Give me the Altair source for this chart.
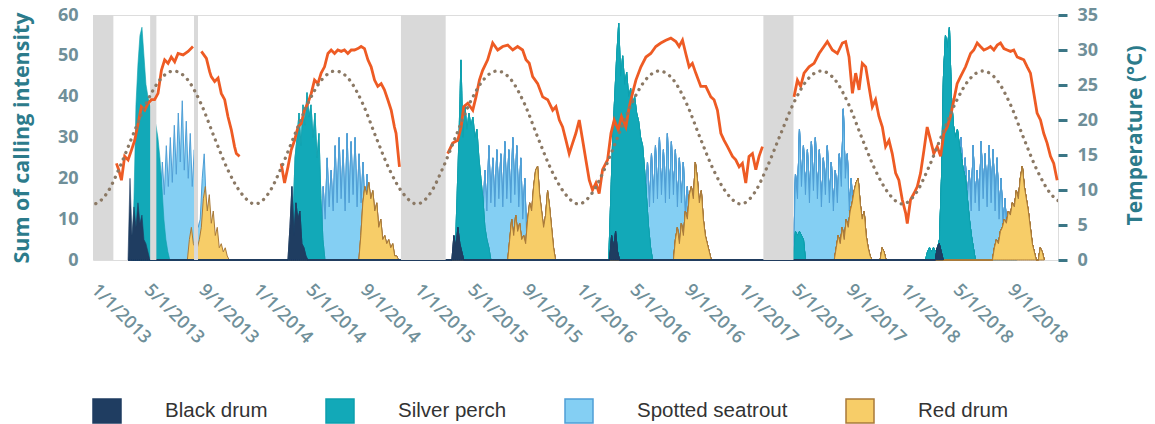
import altair as alt
import pandas as pd

# ---------------- data ----------------
SPECIES = ["Black drum", "Silver perch", "Spotted seatrout", "Red drum"]
FILL_COLORS = ["#1f3d61", "#12a9b8", "#84cff3", "#f7cd68"]
EDGE_COLORS = ["#1f3d61", "#0e9fad", "#4f9fd6", "#a97a3a"]

STEP_DAYS = 4.5  # spacing of the calling-intensity samples

BLACK_DRUM = [
    ("2013-03-20", [0, 20, 6, 13, 8, 14, 9, 11, 5, 4, 2, 0]),
    ("2014-03-16", [0, 8, 18, 6, 14, 10, 12, 4, 3, 1, 0]),
    ("2015-03-21", [0, 6, 3, 8, 4, 2, 0]),
    ("2016-03-11", [0, 6, 3, 7, 2, 0]),
    ("2018-03-16", [0, 3, 4, 2, 0]),
]
SILVER_PERCH = [
    ("2013-03-29", [0, 15, 38, 48, 55, 57, 50, 43, 40, 38, 37, 35, 33, 30, 25, 18, 10, 5, 2, 0]),
    ("2014-03-23", [0, 10, 25, 30, 36, 28, 38, 33, 41, 35, 38, 30, 36, 25, 31, 15, 5, 0]),
    ("2015-03-28", [0, 15, 30, 49, 30, 38, 32, 36, 33, 35, 30, 32, 25, 20, 15, 8, 5, 3, 0]),
    ("2016-03-09", [0, 15, 30, 40, 50, 58, 45, 50, 43, 46, 40, 42, 38, 40, 36, 34, 30, 28, 22, 15, 8, 3, 0]),
    ("2017-04-30", [0, 7, 6, 7, 6, 5, 0]),
    ("2018-02-22", [0, 2, 3, 2, 3, 2, 3, 5, 20, 45, 55, 52, 57, 40, 33, 30, 32, 28, 25, 22, 20, 15, 10, 6, 3, 0]),
]
SPOTTED_SEATROUT = [
    ("2013-05-23", [0, 20, 14, 24, 16, 28, 18, 30, 19, 33, 21, 36, 24, 39, 22, 34, 20, 31, 18, 27, 12, 8, 10, 20, 26, 14, 12, 5, 2, 0]),
    ("2014-05-30", [0, 18, 10, 25, 13, 22, 12, 28, 14, 30, 15, 27, 12, 31, 14, 29, 16, 30, 13, 26, 14, 24, 11, 21, 8, 10, 3, 0]),
    ("2015-05-21", [0, 15, 10, 22, 12, 28, 14, 25, 13, 27, 15, 26, 13, 29, 15, 27, 14, 30, 16, 28, 13, 25, 10, 20, 5, 3, 0]),
    ("2016-05-22", [0, 18, 12, 24, 13, 26, 14, 28, 15, 30, 16, 27, 14, 31, 15, 29, 16, 27, 13, 25, 14, 24, 10, 18, 8, 6, 2, 0]),
    ("2017-04-30", [0, 21, 15, 32, 18, 28, 16, 27, 14, 29, 17, 30, 15, 27, 13, 25, 16, 28, 14, 24, 12, 22, 14, 26, 18, 37, 20, 26, 12, 20, 8, 12, 5, 6, 3, 2, 2, 1, 1, 0]),
    ("2018-04-30", [0, 12, 18, 30, 16, 25, 14, 22, 12, 28, 14, 22, 12, 29, 15, 26, 13, 28, 14, 27, 12, 25, 10, 20, 8, 15, 5, 10, 3, 2, 2, 0]),
]
RED_DRUM = [
    ("2013-08-01", [0, 5, 8, 4, 3, 3, 5, 8, 15, 18, 12, 16, 9, 12, 6, 8, 3, 4, 2, 3, 1, 0]),
    ("2014-08-23", [0, 6, 14, 18, 16, 19, 15, 17, 12, 14, 8, 10, 5, 6, 4, 5, 3, 4, 1, 1, 0]),
    ("2015-07-25", [0, 5, 10, 6, 11, 7, 9, 5, 6, 4, 10, 14, 12, 18, 22, 23, 16, 12, 8, 11, 17, 13, 8, 3, 0]),
    ("2016-08-02", [0, 5, 8, 4, 9, 6, 12, 10, 16, 18, 15, 24, 20, 14, 17, 10, 6, 4, 2, 0]),
    ("2017-07-31", [0, 3, 6, 4, 8, 5, 10, 8, 12, 14, 17, 19, 20, 14, 10, 12, 6, 3, 1, 0, 0, 0, 0, 0, 3, 2, 0]),
    ("2018-07-23", [0, 3, 5, 4, 7, 8, 10, 9, 12, 11, 14, 13, 17, 15, 20, 23, 18, 15, 12, 8, 4, 2, 0, 0, 3, 2, 0]),
]

# water temperature (decimal year, deg C), one list per continuous record
TEMP_2013A = [(2013.142, 13.8), (2013.156, 12.9), (2013.173, 11.4), (2013.193, 14.8), (2013.214, 14.3),
              (2013.235, 15.7), (2013.255, 17.1), (2013.276, 19.5), (2013.296, 21.9), (2013.317, 21.4),
              (2013.338, 22.4), (2013.358, 22.9), (2013.378, 22.9), (2013.399, 23.8), (2013.420, 27.1),
              (2013.440, 28.6), (2013.461, 28.1), (2013.481, 29.0), (2013.502, 28.3), (2013.523, 29.5),
              (2013.554, 29.3), (2013.585, 29.8), (2013.615, 30.5)]
TEMP_2013B = [(2013.667, 29.8), (2013.698, 28.8), (2013.718, 26.9), (2013.728, 26.2), (2013.749, 25.5),
              (2013.770, 26.0), (2013.790, 23.8), (2013.811, 22.9), (2013.831, 20.5), (2013.852, 18.6),
              (2013.872, 16.2), (2013.883, 15.2), (2013.903, 14.8)]
TEMP_2014 = [(2014.160, 13.8), (2014.181, 11.0), (2014.202, 13.3), (2014.222, 15.7), (2014.243, 17.1),
             (2014.264, 19.0), (2014.284, 19.5), (2014.304, 21.4), (2014.325, 22.4), (2014.346, 23.8),
             (2014.366, 25.7), (2014.387, 25.2), (2014.407, 26.7), (2014.428, 27.6), (2014.449, 29.5),
             (2014.469, 30.0), (2014.490, 29.5), (2014.510, 30.0), (2014.531, 29.8), (2014.551, 30.0),
             (2014.572, 29.5), (2014.593, 30.0), (2014.613, 30.0), (2014.634, 30.2), (2014.654, 30.5),
             (2014.675, 30.2), (2014.696, 28.6), (2014.716, 27.6), (2014.737, 25.7), (2014.757, 24.8),
             (2014.778, 25.2), (2014.798, 24.3), (2014.819, 22.9), (2014.840, 21.4), (2014.860, 19.0),
             (2014.870, 18.1), (2014.891, 13.3)]
TEMP_2015 = [(2015.189, 15.2), (2015.220, 16.7), (2015.251, 17.1), (2015.272, 19.0), (2015.288, 21.9),
             (2015.313, 22.4), (2015.344, 21.4), (2015.364, 23.3), (2015.385, 25.7), (2015.405, 27.1),
             (2015.436, 28.6), (2015.467, 31.0), (2015.498, 30.0), (2015.529, 30.5), (2015.560, 30.7),
             (2015.591, 30.0), (2015.621, 30.5), (2015.652, 30.0), (2015.673, 28.6), (2015.693, 28.1),
             (2015.714, 26.2), (2015.745, 25.2), (2015.776, 23.3), (2015.807, 22.9), (2015.838, 21.4),
             (2015.858, 21.9), (2015.879, 20.0), (2015.899, 19.0), (2015.920, 17.1), (2015.940, 15.2),
             (2015.961, 16.7), (2015.981, 18.1), (2016.002, 20.0), (2016.023, 17.1), (2016.043, 14.3),
             (2016.064, 11.4), (2016.084, 10.0), (2016.105, 11.0), (2016.125, 9.5), (2016.146, 12.9),
             (2016.177, 14.3), (2016.198, 18.1), (2016.218, 20.0), (2016.243, 18.6), (2016.263, 20.5),
             (2016.290, 19.0), (2016.311, 21.9), (2016.331, 23.8), (2016.352, 25.7), (2016.383, 27.6),
             (2016.414, 29.0), (2016.444, 29.5), (2016.475, 30.5), (2016.506, 31.0), (2016.537, 31.4),
             (2016.568, 31.7), (2016.599, 31.2), (2016.619, 30.5), (2016.640, 31.4), (2016.660, 29.5),
             (2016.681, 27.6), (2016.701, 28.1), (2016.722, 26.7), (2016.753, 24.8), (2016.784, 24.8),
             (2016.815, 23.3), (2016.835, 22.9), (2016.856, 21.4), (2016.877, 18.1), (2016.897, 17.1),
             (2016.918, 16.2), (2016.949, 14.8), (2016.969, 14.3), (2016.990, 13.3), (2017.010, 13.8),
             (2017.031, 11.0), (2017.051, 14.8), (2017.072, 15.2), (2017.093, 12.9), (2017.113, 14.8),
             (2017.134, 16.2)]
TEMP_2017 = [(2017.329, 23.3), (2017.350, 25.7), (2017.370, 24.8), (2017.391, 26.7), (2017.422, 27.6),
             (2017.453, 28.1), (2017.484, 29.5), (2017.514, 30.5), (2017.535, 31.2), (2017.566, 30.0),
             (2017.597, 29.5), (2017.628, 31.0), (2017.648, 31.2), (2017.669, 29.0), (2017.690, 23.8),
             (2017.710, 26.7), (2017.731, 24.3), (2017.751, 28.1), (2017.772, 27.6), (2017.792, 24.8),
             (2017.813, 21.9), (2017.833, 22.9), (2017.854, 20.5), (2017.875, 19.0), (2017.895, 16.2),
             (2017.916, 17.1), (2017.936, 15.2), (2017.957, 12.4), (2017.977, 11.4), (2017.998, 8.6),
             (2018.019, 6.7), (2018.029, 5.2), (2018.049, 8.6), (2018.070, 9.5), (2018.091, 10.5),
             (2018.111, 12.4), (2018.132, 15.7), (2018.152, 19.0), (2018.173, 17.1), (2018.193, 15.2),
             (2018.214, 16.2), (2018.235, 14.8), (2018.255, 18.1), (2018.276, 19.0), (2018.296, 20.5),
             (2018.317, 22.9), (2018.337, 25.2), (2018.358, 26.2), (2018.389, 27.6), (2018.420, 29.5),
             (2018.440, 30.0), (2018.461, 31.0), (2018.481, 30.5), (2018.502, 30.0), (2018.523, 30.2),
             (2018.543, 30.5), (2018.564, 30.0), (2018.585, 30.7), (2018.605, 31.0), (2018.626, 30.2),
             (2018.646, 30.0), (2018.667, 29.8), (2018.687, 30.0), (2018.708, 29.0), (2018.728, 28.8),
             (2018.749, 28.6), (2018.770, 27.6), (2018.790, 26.7), (2018.811, 23.8), (2018.831, 21.0),
             (2018.852, 20.0), (2018.872, 18.1), (2018.893, 16.7), (2018.914, 14.8), (2018.934, 13.8),
             (2018.955, 11.4)]

# long-term (climatological) temperature read on the 1st of each month
CLIM_MONTHLY = [8.0, 9.6, 13.2, 18.0, 22.5, 25.8, 27.0, 25.8, 22.3, 17.5, 12.8, 9.5]
CLIM_YEARS = [2013, 2014, 2015, 2016, 2017, 2018]

# periods without recordings (grey bands)
GAP_START = ["2012-12-31", "2013-05-09", "2013-08-16", "2014-11-26", "2017-02-21"]
GAP_END = ["2013-02-15", "2013-05-23", "2013-08-25", "2015-03-07", "2017-04-30"]

TICK_MONTHS = [1, 5, 9]
TICK_YEARS = [2013, 2014, 2015, 2016, 2017, 2018]

# ---------------- tables ----------------
def decimal_year_to_date(dy):
    return pd.Timestamp("2013-01-01") + pd.Timedelta(days=(dy - 2013) * 365.25)

rows = []
for name, series in zip(SPECIES, [BLACK_DRUM, SILVER_PERCH, SPOTTED_SEATROUT, RED_DRUM]):
    for start, vals in series:
        t0 = pd.Timestamp(start)
        for i, v in enumerate(vals):
            rows.append({"species": name, "season": name + start,
                         "date": t0 + pd.Timedelta(days=STEP_DAYS * i), "value": v})
calls = pd.DataFrame(rows)

trows = []
for k, seg in enumerate([TEMP_2013A, TEMP_2013B, TEMP_2014, TEMP_2015, TEMP_2017]):
    for dy, t in seg:
        trows.append({"seg": k, "date": decimal_year_to_date(dy), "temp": t})
temp = pd.DataFrame(trows)

crows = [{"date": pd.Timestamp(2012, 12, 1), "temp": CLIM_MONTHLY[11]}]
for y in CLIM_YEARS:
    for m in range(12):
        crows.append({"date": pd.Timestamp(y, m + 1, 1), "temp": CLIM_MONTHLY[m]})
crows.append({"date": pd.Timestamp(2019, 1, 1), "temp": CLIM_MONTHLY[0]})
clim = pd.DataFrame(crows)

gaps = pd.DataFrame({"start": pd.to_datetime(GAP_START), "end": pd.to_datetime(GAP_END)})

# ---------------- styling ----------------
FRAME = "#3b7686"
LABEL_COLOR = "#6f8f99"
TITLE_COLOR = "#2c7b8b"
FONT = "Open Sans"

x_scale = alt.Scale(domain=[alt.DateTime(year=2012, month=12, date=31),
                            alt.DateTime(year=2018, month=12, date=18)])
x_axis = alt.Axis(
    title=None, format="%-m/%-d/%Y",
    values=[alt.DateTime(year=y, month=m, date=1) for y in TICK_YEARS for m in TICK_MONTHS],
    labelAngle=45, labelAlign="left", labelBaseline="middle", labelPadding=27,
    labelFlush=False, labelOverlap=False, labelBound=False,
    ticks=False, domain=False, grid=False,
    labelFont=FONT, labelFontSize=18, labelFontWeight=600, labelColor=LABEL_COLOR,
)
left_axis = alt.Axis(
    title="Sum of calling intensity", values=[0, 10, 20, 30, 40, 50, 60],
    grid=False, domain=False, ticks=False, labelPadding=15,
    labelFont=FONT, labelFontSize=18, labelFontWeight="bold", labelColor=LABEL_COLOR,
    titleFont=FONT, titleFontSize=21.5, titleFontWeight="bold", titleColor=TITLE_COLOR,
    titlePadding=24,
)
right_axis = alt.Axis(
    orient="right", title="Temperature (°C)", values=[0, 5, 10, 15, 20, 25, 30, 35],
    grid=False, domain=False, ticks=True, tickSize=9, tickWidth=3, tickColor=FRAME,
    labelPadding=10,
    labelFont=FONT, labelFontSize=18, labelFontWeight="bold", labelColor=LABEL_COLOR,
    titleFont=FONT, titleFontSize=21, titleFontWeight="bold", titleColor=TITLE_COLOR,
    titleAngle=-90, titleBaseline="top", titleAlign="center", titleY=120, titlePadding=27,
)

legend = alt.Legend(
    title=None, orient="none", legendX=-1, legendY=381, direction="horizontal", columns=4,
    symbolType="M-1,-0.857H1V0.857H-1Z", symbolSize=784, symbolStrokeWidth=1.5,
    labelFont="Liberation Sans", labelFontSize=20.5, labelColor="#333333", labelLimit=400,
    labelOffset=43, columnPadding=55, padding=0,
)
fill_scale = alt.Scale(domain=SPECIES, range=FILL_COLORS)
edge_scale = alt.Scale(domain=SPECIES, range=EDGE_COLORS)

base = alt.Chart(calls)

def species_layer(name, sw):
    return base.transform_filter(alt.datum.species == name).mark_area(
        strokeWidth=sw, fillOpacity=1, interpolate="linear"
    ).encode(
        x=alt.X("date:T", scale=x_scale, axis=x_axis),
        y=alt.Y("value:Q", scale=alt.Scale(domain=[0, 60]), axis=left_axis),
        fill=alt.Fill("species:N", scale=fill_scale, legend=legend),
        stroke=alt.Stroke("species:N", scale=edge_scale, legend=legend),
        detail="season:N",
    )

bands = alt.Chart(gaps).mark_rect(color="#d9d9d9").encode(
    x=alt.X("start:T", scale=x_scale, axis=x_axis),
    x2="end:T",
)

left = alt.layer(
    species_layer("Spotted seatrout", 1.0),
    species_layer("Silver perch", 0.6),
    species_layer("Red drum", 1.0),
    species_layer("Black drum", 0.6),
    bands,
)

temp_line = alt.Chart(temp).mark_line(color="#ee5b24", strokeWidth=2.8).encode(
    x=alt.X("date:T", scale=x_scale, axis=x_axis),
    y=alt.Y("temp:Q", scale=alt.Scale(domain=[0, 35]), axis=right_axis),
    detail="seg:N",
)
clim_line = alt.Chart(clim).mark_line(
    color="#8b7965", strokeWidth=3.3, strokeDash=[0.1, 6.6], strokeCap="round",
    interpolate="monotone", clip=True,
).encode(
    x=alt.X("date:T", scale=x_scale, axis=x_axis),
    y=alt.Y("temp:Q", scale=alt.Scale(domain=[0, 35]), axis=right_axis),
)
right = alt.layer(temp_line, clim_line)

chart = alt.layer(left, right).resolve_scale(y="independent").properties(
    width=965, height=245,
    autosize=alt.AutoSizeParams(type="none"),
    padding={"left": 93, "top": 15, "right": 97, "bottom": 164},
).configure_view(stroke=FRAME, strokeWidth=3).configure(background="white")

chart.save("out.html", embed_options={"renderer": "svg", "actions": False})
